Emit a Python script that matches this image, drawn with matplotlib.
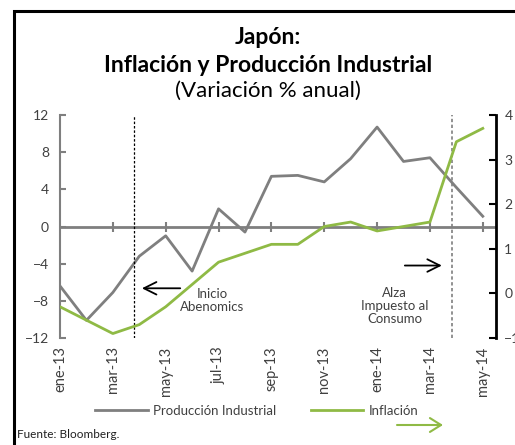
import matplotlib
matplotlib.use("Agg")
import matplotlib.pyplot as plt
from matplotlib.patches import Rectangle, FancyArrowPatch

plt.rcParams['font.family'] = ['Lato', 'DejaVu Sans']

# Datos mensuales ene-13 a may-14
meses = ['ene-13', 'feb-13', 'mar-13', 'abr-13', 'may-13', 'jun-13', 'jul-13', 'ago-13',
         'sep-13', 'oct-13', 'nov-13', 'dic-13', 'ene-14', 'feb-14', 'mar-14', 'abr-14', 'may-14']
produccion = [-6.4, -10.1, -7.1, -3.2, -1.0, -4.8, 1.9, -0.6, 5.4, 5.5, 4.8, 7.3, 10.7, 7.0, 7.4, 4.2, 1.1]
inflacion = [-0.3, -0.6, -0.9, -0.7, -0.3, 0.2, 0.7, 0.9, 1.1, 1.1, 1.5, 1.6, 1.4, 1.5, 1.6, 3.4, 3.7]

ticks_izq = [12, 8, 4, 0, -4, -8, -12]
ticks_der = [4, 3, 2, 1, 0, -1]

gris = '#7f7f7f'
verde = '#8fba45'
texto = '#404040'

fig = plt.figure(figsize=(5.15, 4.45), dpi=100)
ax = fig.add_axes([60/515, 1 - 338/445, 436/515, 223/445])
ax2 = ax.twinx()

x = list(range(len(meses)))
l1, = ax.plot(x, produccion, color=gris, lw=2, label='Producción Industrial')
l2, = ax2.plot(x, inflacion, color=verde, lw=2, label='Inflación')

ax.set_xlim(0, 16.5)
ax.set_ylim(-12, 12)
ax2.set_ylim(-1, 4)
ax.set_yticks(ticks_izq)
ax2.set_yticks(ticks_der)

# eje en cero con marcas cada dos meses
ax.axhline(0, color=gris, lw=2, zorder=1)
ax.plot(x[2::2], [0] * len(x[2::2]), ls='none', marker='|', ms=7, mew=1.5, color=gris, zorder=1)

ax.set_xticks(x[::2])
ax.set_xticklabels(meses[::2], rotation=90, fontsize=10.5, color=texto)
ax.tick_params(axis='x', length=0, pad=6)
ax.tick_params(axis='y', direction='in', length=4, color=gris, width=1.5, labelsize=10,
               labelcolor=texto, pad=8)
ax2.tick_params(axis='y', direction='in', length=5, color='black', width=1.5, labelsize=10,
                labelcolor=texto, pad=6)

for a in (ax, ax2):
    a.spines['top'].set_visible(False)
    a.spines['bottom'].set_visible(False)
ax.spines['left'].set_color(gris)
ax.spines['left'].set_linewidth(1.5)
ax.spines['right'].set_visible(False)
ax2.spines['left'].set_visible(False)
ax2.spines['right'].set_color('black')
ax2.spines['right'].set_linewidth(2)

# lineas verticales de eventos
ax.axvline(2.8, color='black', ls=(0, (2, 1.5)), lw=0.9)
ax.axvline(14.85, color=gris, ls=(0, (2, 1.5)), lw=1.2)

flecha = dict(arrowstyle='->,head_length=0.9,head_width=0.45', color='black', lw=1.3,
              shrinkA=0, shrinkB=0)
ax.annotate('', xy=(3.1, -6.65), xytext=(4.55, -6.65), arrowprops=flecha)
ax.text(5.75, -8.0, 'Inicio\nAbenomics', ha='center', va='center', fontsize=9.5, color=texto,
        linespacing=1.1)
ax.annotate('', xy=(14.45, -4.2), xytext=(13.05, -4.2), arrowprops=flecha)
ax.text(12.67, -8.6, 'Alza\nImpuesto al\nConsumo', ha='center', va='center', fontsize=9.5,
        color=texto, linespacing=1.1)

# titulo
fig.text(268/515, 1 - 37/445, 'Japón:', ha='center', va='center', fontsize=16.5, fontweight='bold')
fig.text(268/515, 1 - 65/445, 'Inflación y Producción Industrial', ha='center', va='center',
         fontsize=16.5, fontweight='bold')
fig.text(268/515, 1 - 91/445, '(Variación % anual)', ha='center', va='center', fontsize=16)

# leyenda
fig.legend(handles=[l1, l2], loc='center left', bbox_to_anchor=(95/515, 1 - 411/445), ncol=2,
           frameon=False, fontsize=9.5, handlelength=4.0, handletextpad=0.4, columnspacing=2.6,
           labelcolor=texto, borderpad=0, borderaxespad=0)
fig.text(17/515, 1 - 435/445, 'Fuente: Bloomberg.', ha='left', va='center', fontsize=8.5,
         color='#202020')
fig.add_artist(FancyArrowPatch(
    (397/515, 1 - 425/445), (443/515, 1 - 425/445), transform=fig.transFigure,
    arrowstyle='->,head_length=8,head_width=5', color=verde, lw=1.5, shrinkA=0, shrinkB=0))

# marco
fig.add_artist(Rectangle((14/515, -0.1), 1.0, 1 - 11/445 + 0.1, transform=fig.transFigure,
                         fill=False, lw=2.2, edgecolor='black'))

fig.savefig('out.png', dpi=100)
